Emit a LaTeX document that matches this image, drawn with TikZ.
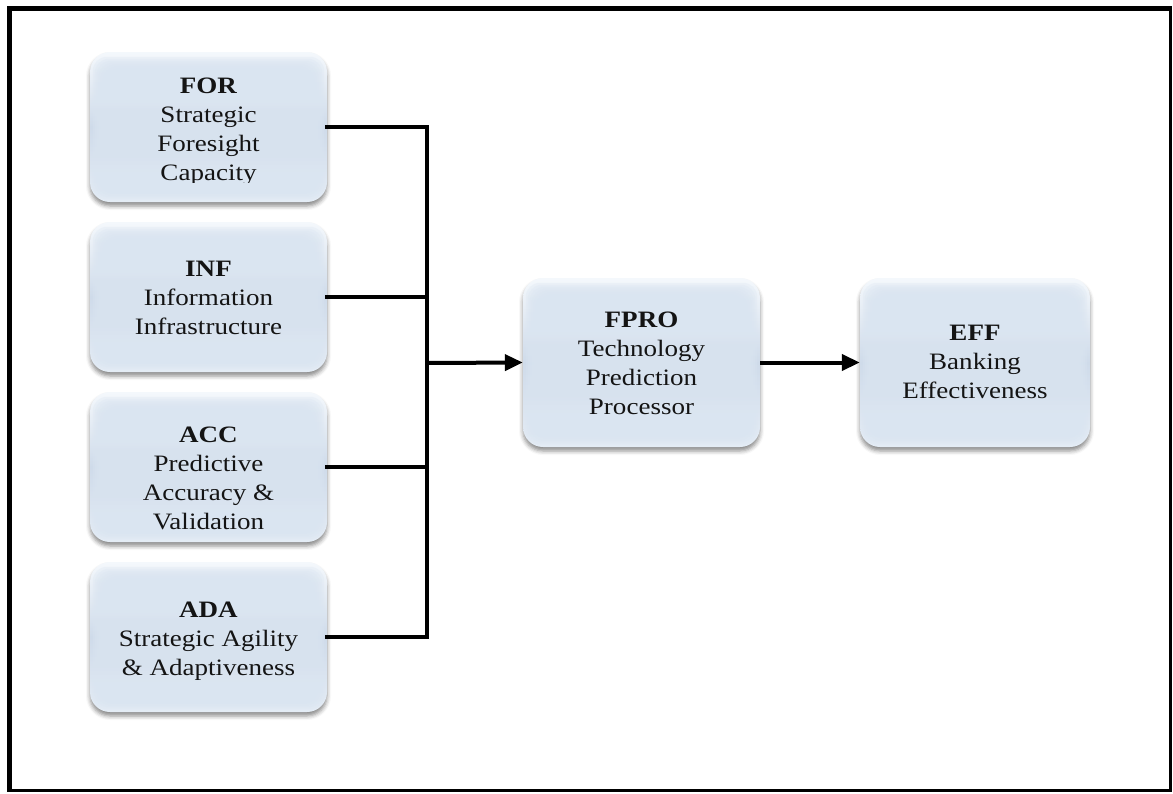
\documentclass[tikz,border=0pt]{standalone}
\usepackage{fontspec}
\setmainfont{Liberation Serif}[FakeStretch=1.15]
\usetikzlibrary{arrows.meta,shadows.blur}

\definecolor{rimtop}{HTML}{F4F8FC}
\definecolor{rimmid}{HTML}{CFDBEA}
\definecolor{rimbot}{HTML}{E4ECF5}
\definecolor{face}{HTML}{DAE5F1}

\tikzset{
  panel/.style={rounded corners=20pt, minimum width=237pt, minimum height=150pt,
    inner sep=0pt, top color=rimtop, bottom color=rimbot, middle color=rimmid,
    draw=none,
    blur shadow={shadow xshift=0pt, shadow yshift=-4pt, shadow blur radius=4pt, shadow opacity=45}},
  facelayer/.style={fill=face, fill opacity=0.3, draw=none, rounded corners=14pt},
  caption/.style={anchor=north, inner sep=0pt, align=center, text=black!92,
    font=\fontsize{23.5}{29}\selectfont},
  conn/.style={line width=4pt, line join=miter, line cap=rect},
  arr/.style={line width=4pt, -{Triangle[length=18pt,width=16pt]}},
}

% soft inner face of a bevelled panel
\newcommand\panelface[1]{%
  \foreach \k in {3,5,...,15}{%
    \fill[facelayer] ([shift={(\k,\k+2)}]#1.north west) rectangle ([shift={(-\k,-\k)}]#1.south east);
  }%
}

\begin{document}
\begin{tikzpicture}[x=1pt,y=-1pt]
\useasboundingbox (0,0) rectangle (1173,793);

% outer frame
\draw[line width=3pt] (8.5,7.5) rectangle (1170.5,790.5);
\draw[line width=3pt] (10,7) -- (10,792);
\draw[line width=3pt] (7,9) -- (1172,9);

% junction point of the input bus
\coordinate (bus) at (427,363);

% input boxes
\node[panel] (for) at (208.5,127) {};
\node[panel] (inf) at (208.5,297) {};
\node[panel] (acc) at (208.5,467) {};
\node[panel] (ada) at (208.5,637) {};
% processor and outcome
\node[panel, minimum width=237pt, minimum height=169pt] (fpro) at (641.5,362.5) {};
\node[panel, minimum width=230pt, minimum height=169pt] (eff) at (975,362.5) {};

\panelface{for}
\panelface{inf}
\panelface{acc}
\panelface{ada}
\panelface{fpro}
\panelface{eff}

% connectors
\draw[conn] (for.east) -- (for.east -| bus) -- (ada.east -| bus) -- (ada.east);
\draw[conn] (inf.east) -- (inf.east -| bus);
\draw[conn] (acc.east) -- (acc.east -| bus);
\draw[arr] (bus) -- (fpro.west);
\draw[arr] (fpro.east) -- (eff.west);

% captions
\begin{scope}
  \clip (90,52) rectangle (327,182.5);
  \node[caption] (for-t) at (208.5,77.8) {\textbf{FOR}\\Strategic\\Foresight\\Capacity};
\end{scope}
\node[caption] (inf-t) at (208.5,260.8) {\textbf{INF}\\Information\\Infrastructure};
\node[caption] (acc-t) at (208.5,426.8) {\textbf{ACC}\\Predictive\\Accuracy \&\\Validation};
\node[caption] (ada-t) at (208.5,601.8) {\textbf{ADA}\\Strategic Agility\\\& Adaptiveness};
\node[caption] (fpro-t) at (641.5,311.8) {\textbf{FPRO}\\Technology\\Prediction\\Processor};
\node[caption] (eff-t) at (975,324.8) {\textbf{EFF}\\Banking\\Effectiveness};
\end{tikzpicture}
\end{document}
